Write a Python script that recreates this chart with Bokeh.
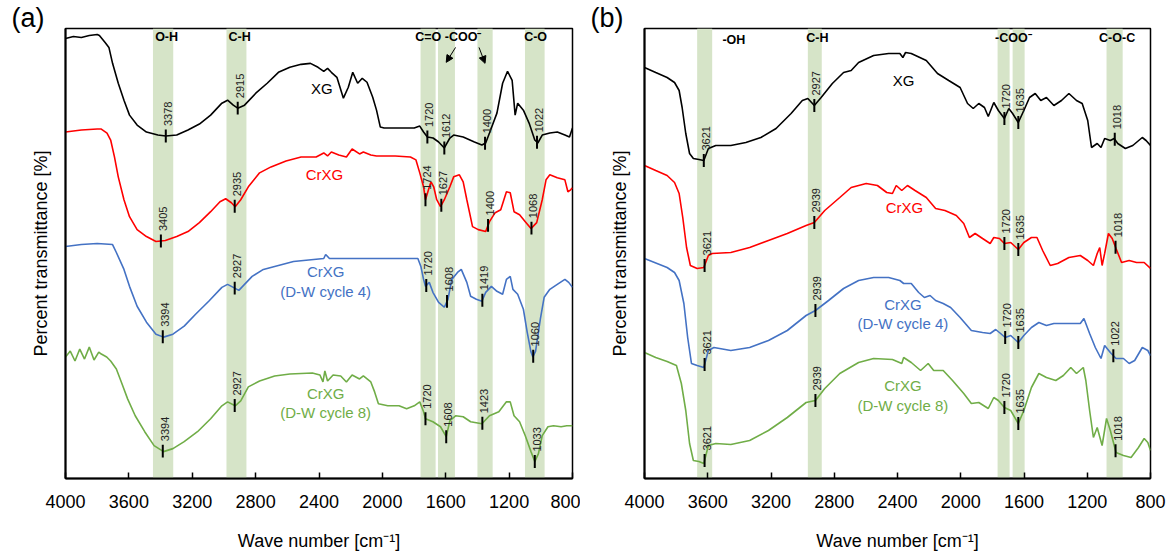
import numpy as np
from bokeh.plotting import figure
from bokeh.layouts import row
from bokeh.models import Range1d, FixedTicker, Arrow, NormalHead
from bokeh.core.properties import value
from bokeh.embed import file_html
from bokeh.resources import INLINE

FONT = "Liberation Sans"
x_ticks = [4000, 3600, 3200, 2800, 2400, 2000, 1600, 1200, 800]
BAND = "#d6e4c8"
C_BLACK, C_RED, C_BLUE, C_GREEN = "#000000", "#ff0000", "#4472c4", "#70ad47"

# ---------------- panel (a) spectra: (wave number, offset transmittance) ----------------
a_xg = [(4000,442),(3950,444),(3900,443),(3850,445),(3800,446),(3786,445),(3750,438),(3726,433),(3703,417),(3667,397),
        (3631,380),(3596,365),(3548,355),(3489,348),(3417,345),(3367,344),(3298,345),(3227,350),(3155,356),(3084,365),
        (3013,377),(2977,380),(2941,375),(2913,372),(2870,375),(2799,387),(2727,397),(2656,408),(2584,413),(2513,416),
        (2454,417),(2406,413),(2370,409),(2346,412),(2322,408),(2287,403),(2246,382),(2215,393),(2187,408),(2156,397),
        (2127,402),(2097,398),(2061,383),(2037,370),(2013,353),(1989,352),(1895,352),(1799,352),(1764,354),(1740,348),
        (1716,343),(1680,342),(1645,338),(1609,332),(1574,342),(1550,345),(1490,343),(1419,338),(1372,335),(1348,337),
        (1324,347),(1277,367),(1241,397),(1210,409),(1181,400),(1162,365),(1146,377),(1110,370),(1074,357),(1038,340),
        (1019,337),(991,345),(943,347),(896,348),(848,345),(819,343),(800,352)]
a_cr = [(4000,348),(3900,350),(3800,351),(3774,351),(3738,347),(3715,340),(3691,323),(3667,303),(3631,280),(3596,263),
        (3548,250),(3489,243),(3429,238),(3370,239),(3298,243),(3227,248),(3155,257),(3084,268),(3025,278),(2989,281),
        (2953,277),(2929,273),(2894,280),(2846,293),(2775,307),(2703,313),(2608,319),(2513,323),(2418,323),(2370,327),
        (2346,324),(2322,328),(2275,325),(2227,323),(2191,331),(2144,326),(2120,328),(2073,325),(2037,324),(1919,324),
        (1823,323),(1788,320),(1764,307),(1740,293),(1728,280),(1709,290),(1693,298),(1676,293),(1657,280),(1633,273),
        (1609,280),(1574,293),(1550,303),(1514,305),(1490,298),(1467,280),(1431,253),(1395,250),(1348,248),(1324,258),
        (1288,267),(1253,270),(1217,288),(1193,287),(1169,268),(1134,265),(1098,258),(1062,251),(1026,257),(991,280),
        (967,300),(943,305),(896,302),(848,300),(829,288),(812,290),(800,292)]
a_dw4 = [(4000,233),(3900,235),(3800,236),(3703,235),(3679,227),(3631,210),(3596,193),(3548,173),(3489,157),(3429,145),
         (3381,142),(3322,145),(3251,153),(3179,165),(3096,178),(3013,192),(2977,195),(2941,192),(2906,189),(2870,195),
         (2822,203),(2751,210),(2680,213),(2561,218),(2370,221),(2358,225),(2334,221),(2156,221),(1919,221),(1776,221),
         (1757,213),(1740,200),(1728,193),(1704,197),(1681,187),(1645,177),(1609,172),(1586,180),(1562,200),(1526,207),
         (1502,210),(1467,197),(1443,183),(1407,180),(1372,178),(1348,187),(1312,193),(1277,188),(1241,185),(1217,200),
         (1193,203),(1176,190),(1146,185),(1110,170),(1086,147),(1062,127),(1050,122),(1033,128),(1003,160),(979,182),
         (943,190),(896,195),(848,200),(824,197),(800,192)]
a_dw8 = [(4000,122),(3970,128),(3940,118),(3910,130),(3880,120),(3850,132),(3820,119),(3790,127),(3774,125),(3740,122),
         (3715,118),(3679,110),(3643,95),(3608,80),(3560,63),(3500,47),(3441,33),(3381,27),(3322,30),(3251,37),
         (3167,47),(3084,60),(3013,73),(2977,77),(2929,73),(2894,78),(2846,92),(2775,98),(2680,103),(2584,105),
         (2442,106),(2394,104),(2375,97),(2363,108),(2346,98),(2311,104),(2263,103),(2227,97),(2191,104),(2144,100),
         (2120,103),(2073,97),(2049,87),(2025,75),(1966,73),(1895,73),(1847,70),(1799,73),(1764,77),(1740,67),
         (1728,60),(1681,57),(1633,52),(1597,42),(1574,58),(1538,63),(1490,62),(1443,57),(1372,55),(1324,63),
         (1265,67),(1217,77),(1193,77),(1169,63),(1134,57),(1098,43),(1062,27),(1038,17),(1015,25),(991,43),
         (955,52),(920,53),(872,52),(836,53),(800,53)]

# peak marks (position on axis, printed label)
a_xg_pos = [3367, 2913, 1716, 1609, 1352, 1024]
a_xg_lab = ["3378", "2915", "1720", "1612", "1400", "1022"]
a_cr_pos = [3398, 2932, 1728, 1628, 1333, 1059]
a_cr_lab = ["3405", "2935", "1724", "1627", "1400", "1068"]
a_dw4_pos = [3386, 2932, 1723, 1592, 1369, 1048]
a_dw4_lab = ["3394", "2927", "1720", "1608", "1419", "1060"]
a_dw8_pos = [3386, 2932, 1728, 1597, 1369, 1038]
a_dw8_lab = ["3394", "2927", "1720", "1608", "1423", "1033"]

a_band_hi = [3448, 2984, 1759, 1649, 1400, 1100]
a_band_lo = [3320, 2858, 1664, 1542, 1304, 976]
a_group_lab = ["O-H", "C-H", "C=O", "-COO\u207b", "C-O"]
a_group_x = [3362, 2901, 1711, 1490, 1033]
a_group_y = [443, 443, 443, 443, 443]
a_arrow_x0 = [1538, 1390]
a_arrow_y0 = [433, 433]
a_arrow_x1 = [1597, 1352]
a_arrow_y1 = [418, 417]

a_names = ["XG", "CrXG", "CrXG", "(D-W cycle 4)", "CrXG", "(D-W cycle 8)"]
a_name_x = [2382, 2366, 2358, 2358, 2358, 2358]
a_name_y = [392, 305, 208, 188, 85, 66]
a_name_c = [C_BLACK, C_RED, C_BLUE, C_BLUE, C_GREEN, C_GREEN]

# ---------------- panel (b) spectra ----------------
b_xg = [(4000,411),(3929,406),(3857,401),(3810,396),(3781,388),(3762,371),(3739,345),(3715,325),(3691,320),(3656,319),
        (3625,318),(3596,330),(3549,333),(3454,333),(3359,336),(3264,341),(3168,350),(3073,365),(3002,378),(2967,380),
        (2926,373),(2883,381),(2812,395),(2741,406),(2693,408),(2646,416),(2551,423),(2456,425),(2385,425),(2366,421),
        (2349,426),(2313,425),(2218,418),(2147,405),(2076,398),(2004,391),(1957,375),(1921,370),(1886,375),(1850,371),
        (1826,362),(1791,376),(1762,368),(1724,360),(1696,370),(1672,365),(1636,356),(1601,368),(1565,381),(1529,385),
        (1494,378),(1458,381),(1411,373),(1363,378),(1316,385),(1268,378),(1232,375),(1197,358),(1173,331),(1137,335),
        (1113,331),(1090,340),(1054,338),(1030,340),(1007,335),(959,330),(912,333),(852,341),(828,338),(800,333)]
b_cr = [(4000,313),(3929,308),(3857,303),(3810,296),(3781,285),(3758,261),(3734,231),(3710,213),(3667,210),(3625,211),
        (3596,223),(3572,225),(3454,226),(3335,231),(3216,238),(3097,245),(2978,253),(2926,256),(2860,268),(2765,281),
        (2693,291),(2598,295),(2527,293),(2468,286),(2432,285),(2408,293),(2373,288),(2337,293),(2289,288),(2218,281),
        (2159,270),(2100,268),(2028,263),(1981,255),(1945,241),(1909,245),(1862,240),(1814,235),(1791,241),(1755,240),
        (1724,235),(1684,236),(1636,229),(1601,236),(1553,241),(1518,241),(1482,228),(1434,213),(1387,215),(1316,221),
        (1244,223),(1197,218),(1161,213),(1137,225),(1121,231),(1106,213),(1090,225),(1066,245),(1042,240),(1018,230),
        (983,216),(935,218),(888,216),(840,216),(800,210)]
b_dw4 = [(4000,220),(3857,211),(3810,206),(3781,198),(3751,175),(3727,141),(3703,115),(3667,113),(3625,111),(3596,128),
         (3561,131),(3454,128),(3335,131),(3216,138),(3097,148),(2978,163),(2919,168),(2836,178),(2741,190),(2646,198),
         (2551,201),(2456,201),(2385,198),(2361,195),(2313,195),(2266,186),(2230,181),(2194,183),(2159,178),(2111,175),
         (2064,171),(2004,161),(1933,148),(1862,146),(1814,145),(1779,149),(1748,145),(1719,141),(1684,143),(1636,136),
         (1601,143),(1553,151),(1506,156),(1458,153),(1411,155),(1351,155),(1292,155),(1244,155),(1221,160),(1185,145),
         (1149,131),(1113,120),(1090,133),(1054,126),(1018,120),(971,120),(935,115),(900,118),(852,131),(817,128),(800,123)]
b_dw8 = [(4000,126),(3929,121),(3857,117),(3798,113),(3767,95),(3739,68),(3715,35),(3691,18),(3656,17),(3625,15),
         (3596,33),(3549,35),(3454,34),(3335,38),(3216,48),(3097,61),(2978,76),(2919,78),(2860,90),(2765,105),
         (2646,116),(2551,120),(2432,119),(2373,115),(2361,121),(2313,116),(2254,108),(2206,115),(2171,108),(2111,108),
         (2052,98),(1981,85),(1933,75),(1886,76),(1826,70),(1791,81),(1762,78),(1724,71),(1684,68),(1636,55),
         (1601,68),(1553,91),(1506,105),(1458,101),(1399,98),(1351,103),(1304,111),(1268,105),(1225,111),(1209,98),
         (1185,68),(1161,41),(1137,51),(1106,33),(1078,60),(1054,48),(1018,26),(971,23),(923,21),(876,31),
         (840,40),(817,36),(800,28)]

b_xg_pos = [3625, 2926, 1724, 1636, 1026]
b_xg_lab = ["3621", "2927", "1720", "1635", "1018"]
b_cr_pos = [3620, 2926, 1724, 1636, 1021]
b_cr_lab = ["3621", "2939", "1720", "1635", "1018"]
b_dw4_pos = [3620, 2919, 1719, 1636, 1035]
b_dw4_lab = ["3621", "2939", "1720", "1635", "1022"]
b_dw8_pos = [3620, 2919, 1724, 1636, 1021]
b_dw8_lab = ["3621", "2939", "1720", "1635", "1018"]

b_band_hi = [3667, 2967, 1767, 1672, 1078]
b_band_lo = [3572, 2879, 1691, 1596, 976]
b_group_lab = ["-OH", "C-H", "-COO\u207b", "C-O-C"]
b_group_x = [3435, 2907, 1667, 1011]
b_group_y = [439, 441, 441, 441]

b_names = ["XG", "CrXG", "CrXG", "(D-W cycle 4)", "CrXG", "(D-W cycle 8)"]
b_name_x = [2361, 2356, 2366, 2366, 2366, 2366]
b_name_y = [398, 271, 174, 155, 93, 73]
b_name_c = [C_BLACK, C_RED, C_BLUE, C_BLUE, C_GREEN, C_GREEN]


def make_panel(letter, width, border_left, border_right, border_bottom, ytop,
               series, marks, bands_hi, bands_lo, groups, names):
    p = figure(width=width, height=555, output_backend="svg", toolbar_location=None,
               x_range=Range1d(4000, 800), y_range=Range1d(0, ytop),
               min_border_left=border_left, min_border_right=border_right,
               min_border_top=28, min_border_bottom=border_bottom)
    p.grid.visible = False
    p.outline_line_color = "black"
    p.outline_line_width = 1.5
    p.outline_line_alpha = 1
    p.background_fill_color = "white"

    # panel letter as the title, pushed left of the frame
    p.title.text = letter
    p.title.align = "left"
    p.title.offset = -54
    p.title.standoff = -8
    p.title.text_font = FONT
    p.title.text_font_size = "27px"
    p.title.text_font_style = "normal"
    p.title.text_color = "black"

    # bands
    p.quad(left=bands_hi, right=bands_lo, bottom=0, top=ytop, fill_color=BAND, line_color=None)

    # spectra
    for data, col in series:
        wn = [d[0] for d in data]
        t = [d[1] for d in data]
        p.line(wn, t, line_color=col, line_width=1.6)

    # peak marks
    for (data, _), (pos, lab) in zip(series, marks):
        wn = np.array([d[0] for d in data])[::-1]
        t = np.array([d[1] for d in data])[::-1]
        yc = np.interp(pos, wn, t)
        p.segment(x0=pos, y0=yc - 6.5, x1=pos, y1=yc + 6.5, line_color="black", line_width=2)
        p.text(x=pos, y=yc + 10, text=lab, angle=np.pi / 2, text_align="left",
               text_baseline="middle", x_offset=2, text_font=value(FONT),
               text_font_size="11px", text_color="#222222")

    # group labels
    glab, gx, gy = groups
    p.text(x=gx, y=gy, text=glab, text_align="center", text_baseline="middle",
           text_font=value(FONT), text_font_size="12.5px", text_font_style="bold",
           text_color="black")

    # sample names
    nl, nx, ny, nc = names
    p.text(x=nx, y=ny, text=nl, text_color=nc, text_align="center", text_baseline="middle",
           text_font=value(FONT), text_font_size="15px")

    # axes
    p.xaxis.ticker = FixedTicker(ticks=x_ticks)
    p.xaxis.major_tick_in = 6
    p.xaxis.major_tick_out = 0
    p.xaxis.minor_tick_line_color = None
    p.xaxis.major_label_text_font = FONT
    p.xaxis.major_label_text_font_size = "18px"
    p.xaxis.major_label_text_color = "black"
    p.xaxis.major_label_standoff = 16
    p.xaxis.axis_label = "Wave number [cm\u207b\u00b9]"
    p.xaxis.axis_label_text_font = FONT
    p.xaxis.axis_label_text_font_size = "18px"
    p.xaxis.axis_label_text_font_style = "normal"
    p.xaxis.axis_label_text_color = "black"
    p.xaxis.axis_label_standoff = 20

    p.yaxis.ticker = FixedTicker(ticks=[])
    p.yaxis.minor_tick_line_color = None
    p.yaxis.axis_label = "Percent transmittance [%]"
    p.yaxis.axis_label_text_font = FONT
    p.yaxis.axis_label_text_font_size = "18px"
    p.yaxis.axis_label_text_font_style = "normal"
    p.yaxis.axis_label_text_color = "black"
    p.yaxis.axis_label_standoff = 15

    for ax in (p.xaxis, p.yaxis):
        ax.axis_line_color = "black"
        ax.axis_line_width = 2
        ax.major_tick_line_color = "black"
        ax.major_tick_line_width = 1.5
    return p


pa = make_panel("(a)", 580, 65, 8, 75, 452,
                [(a_xg, C_BLACK), (a_cr, C_RED), (a_dw4, C_BLUE), (a_dw8, C_GREEN)],
                [(a_xg_pos, a_xg_lab), (a_cr_pos, a_cr_lab), (a_dw4_pos, a_dw4_lab), (a_dw8_pos, a_dw8_lab)],
                a_band_hi, a_band_lo, (a_group_lab, a_group_x, a_group_y),
                (a_names, a_name_x, a_name_y, a_name_c))
for x0, y0, x1, y1 in zip(a_arrow_x0, a_arrow_y0, a_arrow_x1, a_arrow_y1):
    pa.add_layout(Arrow(end=NormalHead(size=7, fill_color="black", line_color="black"),
                        x_start=x0, y_start=y0, x_end=x1, y_end=y1,
                        line_color="black", line_width=1))

pb = make_panel("(b)", 589, 64, 19, 77, 450,
                [(b_xg, C_BLACK), (b_cr, C_RED), (b_dw4, C_BLUE), (b_dw8, C_GREEN)],
                [(b_xg_pos, b_xg_lab), (b_cr_pos, b_cr_lab), (b_dw4_pos, b_dw4_lab), (b_dw8_pos, b_dw8_lab)],
                b_band_hi, b_band_lo, (b_group_lab, b_group_x, b_group_y),
                (b_names, b_name_x, b_name_y, b_name_c))

layout = row(pa, pb)
open("out.html", "w").write(file_html(layout, INLINE))
